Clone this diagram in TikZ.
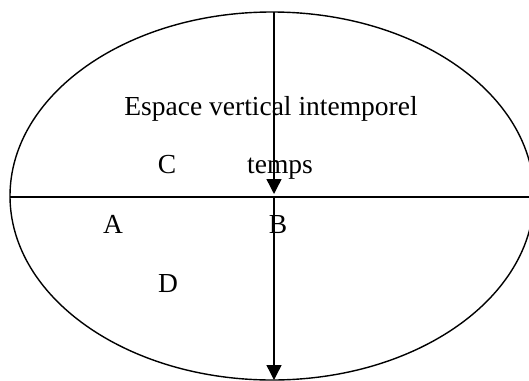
\documentclass[tikz,border=0pt]{standalone}
\usepackage{fontspec}
\setmainfont{Liberation Serif}
\usetikzlibrary{arrows.meta}
\tikzset{
  lbl/.style={inner sep=0pt, anchor=base, font=\fontsize{27.5}{32}\selectfont},
  ln/.style={line width=1.4pt, black},
  arr/.style={ln, -{Triangle[length=15pt,width=15pt]}}
}
\begin{document}
\begin{tikzpicture}[x=1pt,y=-1pt]
\useasboundingbox (0,0) rectangle (529,380);
\begin{scope}
\clip (0,0) rectangle (529,380);
\draw[ln] (272,196) ellipse [x radius=262, y radius=184];
\coordinate (L) at (10,197);
\coordinate (R) at (532,197);
\coordinate (T) at (274,12);
\coordinate (M) at (274,194);
\coordinate (Bt) at (274,380);
\coordinate (Mm) at (274,197);
\draw[ln] (L) -- (R);
\draw[arr] (T) -- (M);
\draw[arr] (Mm) -- (Bt);
\end{scope}
\node[lbl] (esp) at (271,115) {Espace vertical intemporel};
\node[lbl] (c) at (167,173) {C};
\node[lbl] (temps) at (280,173) {temps};
\node[lbl] (a) at (113,233) {A};
\node[lbl] (b) at (278,233) {B};
\node[lbl] (d) at (168,292) {D};
\end{tikzpicture}
\end{document}
